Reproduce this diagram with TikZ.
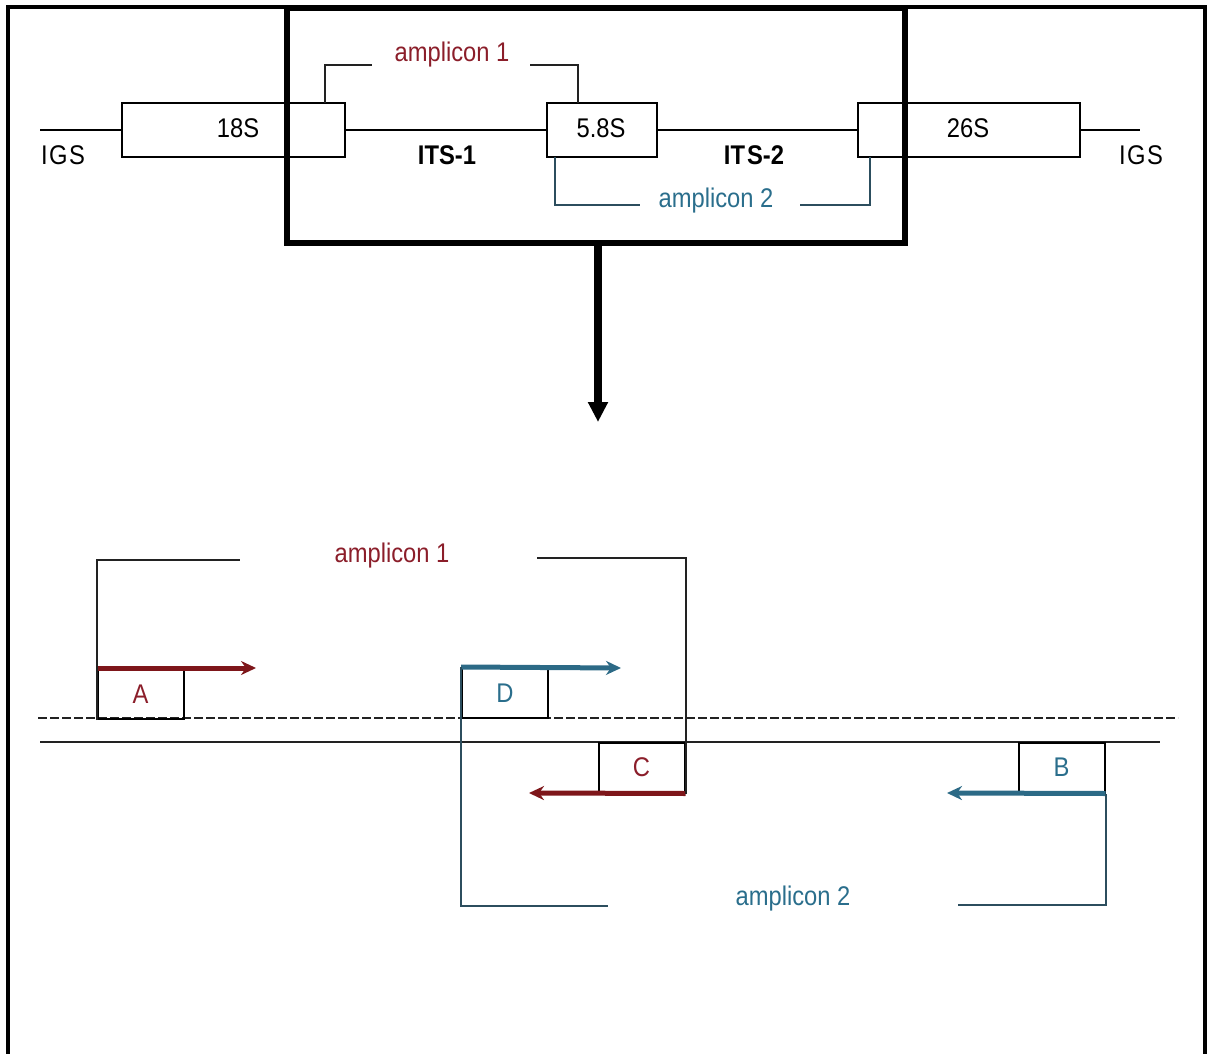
\documentclass[tikz,border=0pt]{standalone}
\usepackage{fontspec}
\setmainfont{Liberation Sans}[FakeStretch=0.88]
\usetikzlibrary{arrows.meta}
\definecolor{maroon}{HTML}{8B1E2A}
\definecolor{tealb}{HTML}{2A6E8C}
\definecolor{arrred}{HTML}{7E161A}
\definecolor{arrblue}{HTML}{2C6A86}
\definecolor{brk}{HTML}{222222}
\definecolor{brkb}{HTML}{2C4E5E}
\begin{document}
\begin{tikzpicture}[x=1pt,y=-1pt,
  every node/.style={font=\fontsize{27}{31}\selectfont},
  gbox/.style={draw=black,line width=2pt,inner sep=0pt,minimum height=54pt},
  pbox/.style={draw=black,line width=2pt,inner sep=0pt,minimum width=86pt,minimum height=50pt},
  thin/.style={line width=2pt,draw=brk},
  thinb/.style={line width=2pt,draw=brkb},
  primer/.style={line width=5pt,-{Stealth[length=15pt,width=14pt]}},
  lbl/.style={inner sep=0pt}
]
\useasboundingbox (0,0) rectangle (1213,1054);
% frame
\draw[line width=3.5pt] (8,1060) -- (8,7) -- (1205,7) -- (1205,1060);
\draw[line width=6pt] (287,8) rectangle (905,243);
\coordinate (frbot) at (598,243);
\coordinate (arrend) at (598,422);
\draw[line width=8pt,-{Triangle[length=20pt,width=19pt]}] (frbot) -- (arrend);

% top gene row
\node[gbox,minimum width=223pt] (s18) at (233.5,130) {};
\node[gbox,minimum width=110pt] (s58) at (602,130) {};
\node[gbox,minimum width=222pt] (s26) at (969,130) {};
\node[lbl] at (238,128) {18S};
\node[lbl] at (601,128) {5.8S};
\node[lbl] at (968,128) {26S};
\coordinate (igsl) at (40,130);
\coordinate (igsr) at (1140,130);
\draw[thin,draw=black] (igsl) -- (s18.west);
\draw[thin,draw=black] (s18.east) -- (s58.west);
\draw[thin,draw=black] (s58.east) -- (s26.west);
\draw[thin,draw=black] (s26.east) -- (igsr);
\node[lbl] (igs1) at (63,155) {I\kern1.5pt G\kern1.5pt S};
\node[lbl] (igs2) at (1141,155) {I\kern1.5pt G\kern1.5pt S};
\node[lbl] (its1) at (447,155) {\bfseries ITS-1};
\node[lbl] (its2) at (754,155) {\bfseries IT\kern2pt S-2};
% top amplicon 1
\node[lbl,text=maroon] (ta1) at (452,55) {amplicon 1};
\coordinate (ta1a) at (325,103);
\coordinate (ta1b) at (372,65);
\coordinate (ta1c) at (530,65);
\coordinate (ta1d) at (578,103);
\draw[thin] (ta1a) |- (ta1b);
\draw[thin] (ta1c) -| (ta1d);
% top amplicon 2
\node[lbl,text=tealb] (ta2) at (716,201) {amplicon 2};
\coordinate (ta2a) at (555,157);
\coordinate (ta2b) at (640,205);
\coordinate (ta2c) at (800,205);
\coordinate (ta2d) at (870,157);
\draw[thinb] (ta2a) |- (ta2b);
\draw[thinb] (ta2c) -| (ta2d);

% bottom strands
\coordinate (dl) at (38,718);
\coordinate (dr) at (1178,718);
\coordinate (sl) at (40,742);
\coordinate (sr) at (1160,742);
\draw[line width=2pt,draw=brk,dash pattern=on 9pt off 3pt] (dl) -- (dr);
\draw[line width=2pt,draw=brk] (sl) -- (sr);

% primer boxes
\node[pbox,text=maroon] (A) at (140.5,694) {A};
\node[pbox,text=tealb] (D) at (505,693) {D};
\node[pbox,text=maroon] (C) at (641.5,767.5) {C};
\node[pbox,text=tealb] (B) at (1061.5,767.5) {B};

% primer arrows
\coordinate (Ae) at (256,668);
\coordinate (De) at (621,668);
\coordinate (Ce) at (529,793);
\coordinate (Be) at (947,793);
\draw[primer,draw=arrred,fill=arrred] (A.north west) -- (Ae);
\draw[primer,draw=arrblue,fill=arrblue] (D.north west) -- (De);
\draw[primer,draw=arrred,fill=arrred] (C.south east) -- (Ce);
\draw[primer,draw=arrblue,fill=arrblue] (B.south east) -- (Be);

% bottom amplicon 1
\node[lbl,text=maroon] (ba1) at (392,556) {amplicon 1};
\coordinate (ba1b) at (240,560);
\coordinate (ba1c) at (537,558);
\draw[thin] (A.south west) |- (ba1b);
\draw[thin] (ba1c) -| (C.south east);

% bottom amplicon 2
\node[lbl,text=tealb] (ba2) at (793,899) {amplicon 2};
\coordinate (ba2b) at (608,906);
\coordinate (ba2c) at (958,905);
\draw[thinb] (D.north west) |- (ba2b);
\draw[thinb] (ba2c) -| (B.south east);
\end{tikzpicture}
\end{document}
